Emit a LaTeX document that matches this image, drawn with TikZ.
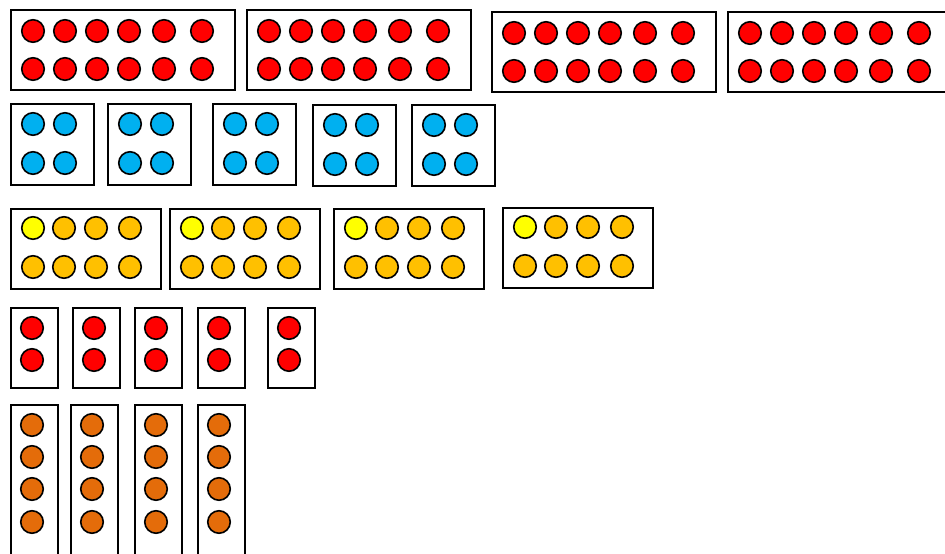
\documentclass[tikz,border=0pt]{standalone}
\usetikzlibrary{positioning}
\definecolor{cred}{HTML}{FF0000}
\definecolor{cblue}{HTML}{00B0F0}
\definecolor{cyellow}{HTML}{FFFF00}
\definecolor{cgold}{HTML}{FFC000}
\definecolor{corange}{HTML}{E46C0A}
\tikzset{
  tray/.style={draw=black, line width=1.8pt, fill=white, anchor=north west, inner sep=0pt},
  dot/.style={circle, draw=black, line width=1.6pt, fill=#1, minimum size=22.5pt, inner sep=0pt},
  dot/.default=cred,
}

\begin{document}
\begin{tikzpicture}[x=1pt, y=-1pt]
  \clip (0,0) rectangle (945,554);
  % trays of twelve
  \foreach \X/\Y [count=\i] in {10/9, 246/9, 491/11, 727/11} {
    \node[tray, minimum width=224pt, minimum height=80pt] (twelve\i) at (\X,\Y) {};
    \foreach \dx [count=\k] in {23,55,87,119,154,192} {
      \node[dot=cred] (twelve\i-a\k) at (\X+\dx,\Y+22) {};
      \node[dot=cred] (twelve\i-b\k) at (\X+\dx,\Y+60) {};
    }
  }
  % trays of four
  \foreach \X/\Y [count=\i] in {10/103, 107/103, 212/103, 312/104, 411/104} {
    \node[tray, minimum width=83pt, minimum height=81pt] (four\i) at (\X,\Y) {};
    \foreach \dx [count=\k] in {23,55} {
      \node[dot=cblue] (four\i-a\k) at (\X+\dx,\Y+21) {};
      \node[dot=cblue] (four\i-b\k) at (\X+\dx,\Y+60) {};
    }
  }
  % trays of eight
  \foreach \X/\Y [count=\i] in {10/208, 169/208, 333/208, 502/207} {
    \node[tray, minimum width=150pt, minimum height=80pt] (eight\i) at (\X,\Y) {};
    \foreach \dx/\c [count=\k] in {23/cyellow, 54/cgold, 86/cgold, 120/cgold} {
      \node[dot=\c] (eight\i-a\k) at (\X+\dx,\Y+20) {};
      \node[dot=cgold] (eight\i-b\k) at (\X+\dx,\Y+59) {};
    }
  }
  % trays of two
  \foreach \X [count=\i] in {10, 72, 134, 197, 267} {
    \node[tray, minimum width=47pt, minimum height=80pt] (two\i) at (\X,307) {};
    \foreach \dy [count=\k] in {21,53}
      \node[dot=cred] (two\i-\k) at (\X+22,307+\dy) {};
  }
  % tall trays
  \foreach \X [count=\i] in {10, 70, 134, 197} {
    \node[tray, minimum width=47pt, minimum height=200pt] (tall\i) at (\X,404) {};
    \foreach \dy [count=\k] in {21,53,85,118}
      \node[dot=corange] (tall\i-\k) at (\X+22,404+\dy) {};
  }
\end{tikzpicture}
\end{document}
